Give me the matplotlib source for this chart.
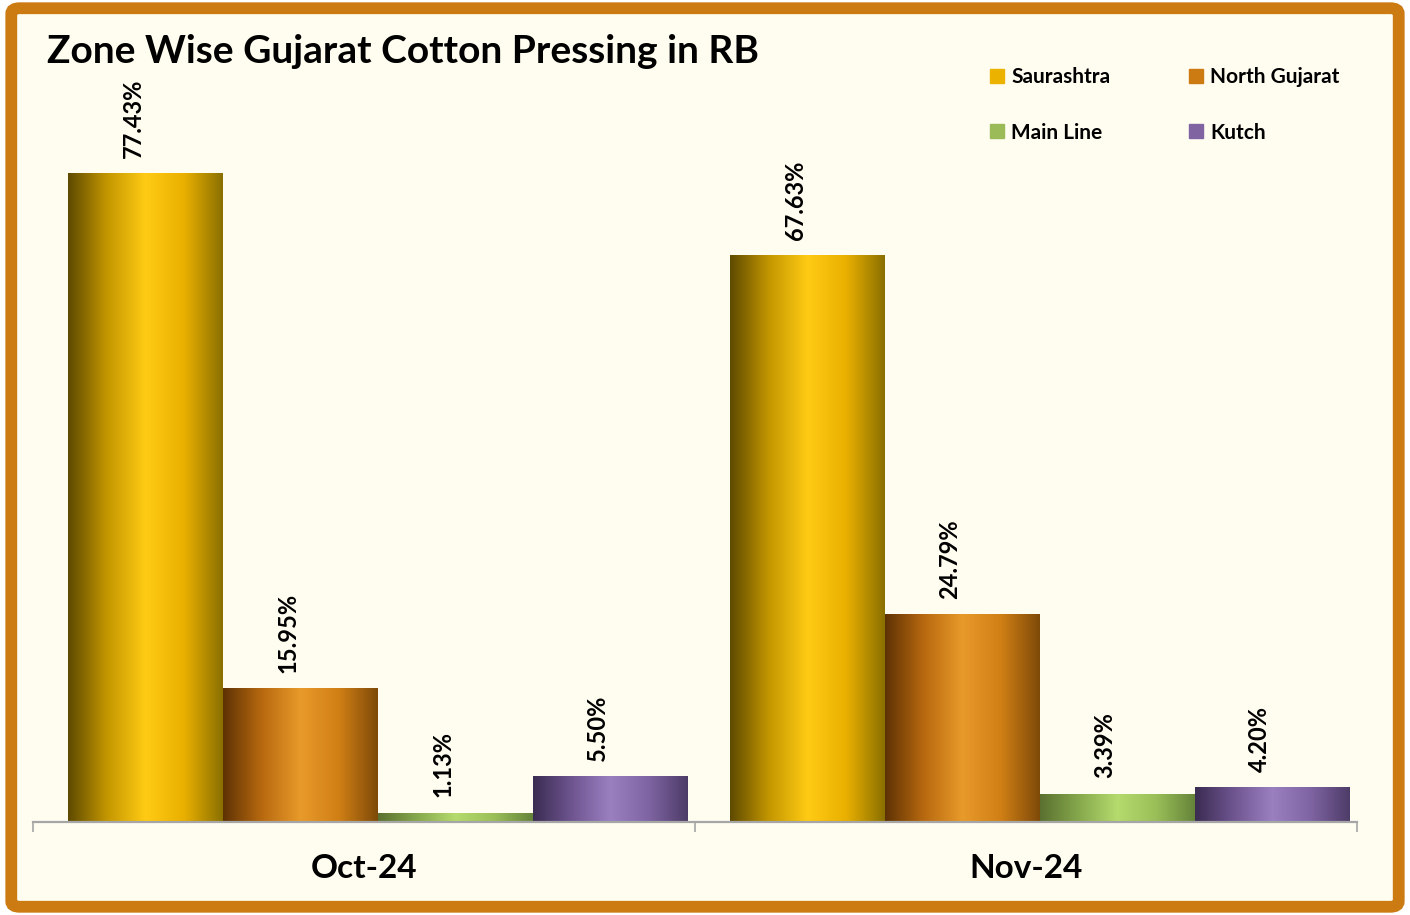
"""
Zone Wise Gujarat Cotton Pressing in RB - grouped bar chart
"""

import numpy as np
import matplotlib
matplotlib.use('Agg')
import matplotlib.pyplot as plt
from matplotlib.patches import FancyBboxPatch
from matplotlib.colors import LinearSegmentedColormap

# ============================================================================
# 数据
# ============================================================================

months = ["Oct-24", "Nov-24"]
zones = ["Saurashtra", "North Gujarat", "Main Line", "Kutch"]
saurashtra = [77.43, 67.63]
north_gujarat = [15.95, 24.79]
main_line = [1.13, 3.39]
kutch = [5.50, 4.20]

TITLE = "Zone Wise Gujarat Cotton Pressing in RB"

# ============================================================================
# 样式
# ============================================================================

plt.rcParams['font.family'] = ['Lato', 'DejaVu Sans']
plt.rcParams['font.weight'] = 'bold'

LEGEND_COLORS = ["#EBB300", "#CC7A12", "#9BBB59", "#8064A2"]
# 圆柱状渐变：左暗 -> 中亮 -> 右暗
GRADIENTS = [
    ["#5E4A00", "#C39600", "#FFCB14", "#EAB000", "#8A7000"],
    ["#5E3204", "#B8690F", "#E89A2A", "#D07F15", "#7E4A08"],
    ["#5A7030", "#86A84C", "#B5DB6E", "#9ABF58", "#66843A"],
    ["#3B2C52", "#6E5590", "#9B80C0", "#7E64A2", "#4E3C68"],
]
BORDER = "#CC7A12"
BG = "#FFFCF0"

fig = plt.figure(figsize=(14.1, 9.15), dpi=100, facecolor="white")

# 外框
frame = FancyBboxPatch((0.008, 0.009), 0.984, 0.982,
                       boxstyle="round,pad=0,rounding_size=0.006",
                       transform=fig.transFigure, facecolor=BG,
                       edgecolor=BORDER, linewidth=8.5, zorder=-1)
fig.patches.append(frame)

ax = fig.add_axes([0.0234, 0.1016, 0.9390, 0.8241])
ax.set_facecolor("none")

series = [saurashtra, north_gujarat, main_line, kutch]
x = np.arange(len(months))
width = 0.2338
shift = 0.021

handles = []
for i, (vals, grad) in enumerate(zip(series, GRADIENTS)):
    cmap = LinearSegmentedColormap.from_list(f"g{i}", grad)
    pos = x + (i - 1.5) * width + shift
    bars = ax.bar(pos, vals, width=width, color=LEGEND_COLORS[i],
                  edgecolor="none", label=zones[i], zorder=2)
    handles.append(bars)
    for b, v in zip(bars, vals):
        x0, w = b.get_x(), b.get_width()
        img = ax.imshow(np.linspace(0, 1, 256).reshape(1, -1), cmap=cmap,
                        aspect="auto", extent=(x0, x0 + w, 0, v),
                        zorder=3, interpolation="bilinear")
        img.set_clip_path(b)
        # 标签略偏左，与原图一致
        ax.annotate(f"{v:.2f}%", (x0 + w / 2, v), xytext=(-9, 11),
                    textcoords="offset points", rotation=90,
                    ha="center", va="bottom", fontsize=17,
                    fontweight="bold", color="black", zorder=4)

ax.set_xlim(-0.5, 1.5)
ax.set_ylim(0, 90)

for side in ["top", "right", "left"]:
    ax.spines[side].set_visible(False)
ax.spines["bottom"].set_color("#A6A6A6")
ax.spines["bottom"].set_linewidth(1.6)
ax.spines["bottom"].set_zorder(5)

ax.set_yticks([])
ax.set_xticks([-0.5, 0.5, 1.5])
ax.set_xticklabels([])
ax.tick_params(axis="x", length=7, width=1.2, color="#A6A6A6")
ax.set_xticks(x, minor=True)
ax.set_xticklabels(months, minor=True, fontsize=24, fontweight="bold")
ax.tick_params(axis="x", which="minor", length=0, pad=23)

fig.text(0.033, 0.944, TITLE, fontsize=28, fontweight="bold",
         ha="left", va="center")

# 图例按行排列：matplotlib 按列填充，所以调整顺序
order = [0, 2, 1, 3]
leg = fig.legend([handles[k] for k in order], [zones[k] for k in order],
                 loc="upper left", bbox_to_anchor=(0.689, 0.947), ncol=2,
                 frameon=False, fontsize=15, handlelength=0.65,
                 handleheight=0.65, handletextpad=0.35, columnspacing=3.8,
                 labelspacing=1.7)
for h, k in zip(leg.legend_handles, order):
    h.set_color(LEGEND_COLORS[k])
for t in leg.get_texts():
    t.set_fontweight("bold")

fig.savefig("out.png", dpi=100, facecolor=fig.get_facecolor())
